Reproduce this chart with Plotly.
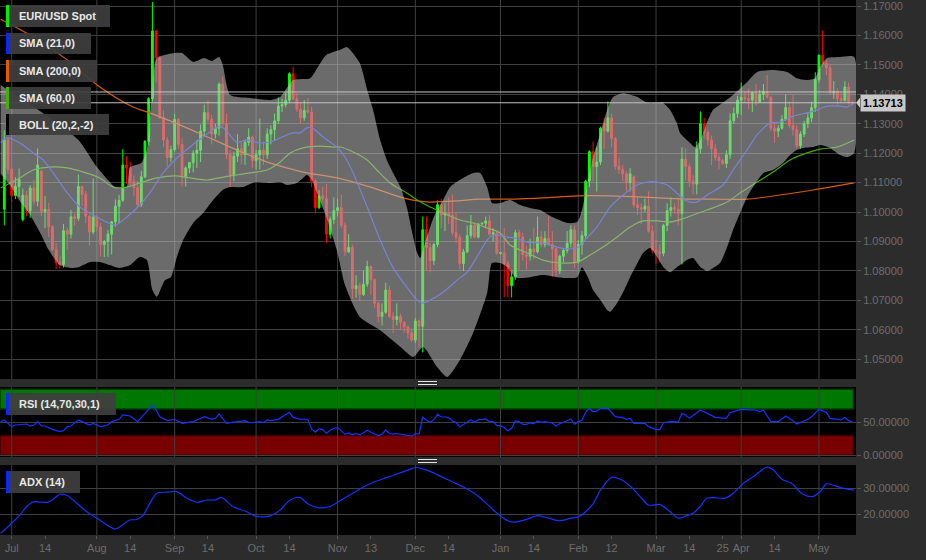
import plotly.graph_objects as go

# ---------------- DATA ----------------
# trading-day index: 0 = 2015-06-29 ... 229 = 2016-05-13 (weekdays)
OPEN = [
    1.1010, 1.1245,
    1.1145, 1.1056, 1.1087, 1.0975, 1.1057, 1.1004, 1.1082, 1.1037, 1.1140, 1.1002, 1.1009, 1.0951, 1.0873, 1.0828, 1.0822, 1.0937, 1.0925, 1.0984, 1.0978, 1.1087, 1.1060, 1.0986, 1.0932,
    1.0983, 1.0950, 1.0890, 1.0900, 1.0925, 1.0967, 1.1020, 1.1040, 1.1160, 1.1150, 1.1105, 1.1083, 1.1025, 1.1120, 1.1240, 1.1385, 1.1615, 1.1525, 1.1320, 1.1245, 1.1185,
    1.1212, 1.1315, 1.1230, 1.1120, 1.1150, 1.1168, 1.1200, 1.1210, 1.1275, 1.1338, 1.1315, 1.1265, 1.1285, 1.1435, 1.1300, 1.1195, 1.1125, 1.1190, 1.1215, 1.1195, 1.1237, 1.1255,
    1.1175, 1.1195, 1.1210, 1.1195, 1.1265, 1.1280, 1.1310, 1.1360, 1.1365, 1.1380, 1.1470, 1.1385, 1.1350, 1.1320, 1.1345, 1.1340, 1.1105, 1.1015, 1.1055, 1.1045, 1.0925, 1.0975,
    1.1005, 1.1015, 1.0955, 1.0865, 1.0880, 1.0740, 1.0750, 1.0720, 1.0755, 1.0815, 1.0770, 1.0690, 1.0645, 1.0660, 1.0735, 1.0645, 1.0635, 1.0645, 1.0625, 1.0610, 1.0590,
    1.0565, 1.0630, 1.0612, 1.0940, 1.0880, 1.0835, 1.0890, 1.1025, 1.0990, 1.0995, 1.0990, 1.0930, 1.0915, 1.0825, 1.0865, 1.0920, 1.0955, 1.0915, 1.0960, 1.0962, 1.0970, 1.0925, 1.0930,
    1.0860, 1.0862, 1.0825, 1.0750, 1.0780, 1.0930, 1.0915, 1.0855, 1.0850, 1.0875, 1.0865, 1.0915, 1.0890, 1.0910, 1.0890, 1.0875, 1.0800, 1.0850, 1.0870, 1.0895, 1.0940,
    1.0830, 1.0890, 1.0920, 1.1105, 1.1205, 1.1155, 1.1170, 1.1300, 1.1275, 1.1320, 1.1250, 1.1155, 1.1145, 1.1130, 1.1100, 1.1120, 1.1025, 1.1015, 1.1010, 1.1020, 1.0935,
    1.0870, 1.0865, 1.0860, 1.0955, 1.1005, 1.1015, 1.1010, 1.0995, 1.1180, 1.1155, 1.1105, 1.1095, 1.1215, 1.1300, 1.1270, 1.1245, 1.1215, 1.1185, 1.1175, 1.1165, 1.1195, 1.1310, 1.1335,
    1.1380, 1.1390, 1.1385, 1.1380, 1.1405, 1.1375, 1.1400, 1.1410, 1.1390, 1.1285, 1.1275, 1.1285, 1.1315, 1.1355, 1.1295, 1.1280, 1.1225, 1.1265, 1.1300, 1.1320, 1.1355,
    1.1450, 1.1533, 1.1505, 1.1490, 1.1405, 1.1410, 1.1385, 1.1380, 1.1425, 1.1372,
]
HIGH = [
    1.1278, 1.1250,
    1.1150, 1.1119, 1.1148, 1.1080, 1.1072, 1.1091, 1.1110, 1.1216, 1.1140, 1.1055, 1.1031, 1.0954, 1.0895, 1.0848, 1.0960, 1.0947, 1.1007, 1.0994, 1.1128, 1.1088, 1.1072, 1.0990, 1.1114,
    1.0989, 1.0963, 1.0905, 1.0939, 1.0970, 1.1043, 1.1058, 1.1214, 1.1189, 1.1170, 1.1125, 1.1105, 1.1140, 1.1245, 1.1390, 1.1714, 1.1618, 1.1530, 1.1345, 1.1255, 1.1225,
    1.1333, 1.1320, 1.1250, 1.1156, 1.1170, 1.1210, 1.1245, 1.1297, 1.1365, 1.1380, 1.1330, 1.1300, 1.1440, 1.1460, 1.1335, 1.1210, 1.1205, 1.1265, 1.1240, 1.1245, 1.1285, 1.1260,
    1.1210, 1.1318, 1.1240, 1.1285, 1.1295, 1.1335, 1.1390, 1.1385, 1.1405, 1.1475, 1.1495, 1.1405, 1.1370, 1.1380, 1.1387, 1.1358, 1.1110, 1.1075, 1.1085, 1.1095, 1.0985, 1.1050,
    1.1045, 1.1060, 1.0965, 1.0925, 1.0890, 1.0785, 1.0760, 1.0800, 1.0835, 1.0820, 1.0775, 1.0695, 1.0690, 1.0760, 1.0750, 1.0660, 1.0690, 1.0655, 1.0630, 1.0615, 1.0605,
    1.0640, 1.0635, 1.0985, 1.0985, 1.0895, 1.0895, 1.1040, 1.1045, 1.1030, 1.1050, 1.1060, 1.1000, 1.0925, 1.0875, 1.0955, 1.0990, 1.0965, 1.0960, 1.0965, 1.0985, 1.0990, 1.0945, 1.0935,
    1.0865, 1.0946, 1.0835, 1.0800, 1.0940, 1.0940, 1.0930, 1.0885, 1.0910, 1.0945, 1.0985, 1.0935, 1.0935, 1.0985, 1.0935, 1.0880, 1.0855, 1.0875, 1.0935, 1.0955, 1.0955,
    1.0905, 1.0935, 1.1110, 1.1210, 1.1240, 1.1220, 1.1290, 1.1320, 1.1376, 1.1335, 1.1255, 1.1185, 1.1160, 1.1140, 1.1150, 1.1125, 1.1050, 1.1030, 1.1045, 1.1070, 1.0955,
    1.0905, 1.0890, 1.0960, 1.1030, 1.1050, 1.1030, 1.1050, 1.1220, 1.1217, 1.1165, 1.1125, 1.1240, 1.1342, 1.1320, 1.1280, 1.1260, 1.1230, 1.1195, 1.1180, 1.1210, 1.1335, 1.1355, 1.1395,
    1.1440, 1.1410, 1.1420, 1.1410, 1.1435, 1.1415, 1.1435, 1.1465, 1.1395, 1.1305, 1.1295, 1.1330, 1.1400, 1.1375, 1.1400, 1.1295, 1.1275, 1.1310, 1.1340, 1.1375, 1.1475,
    1.1535, 1.1616, 1.1515, 1.1500, 1.1445, 1.1420, 1.1405, 1.1445, 1.1440, 1.1380,
]
LOW = [
    1.0955, 1.1130,
    1.1034, 1.1044, 1.1052, 1.0968, 1.0986, 1.0980, 1.1025, 1.1020, 1.0987, 1.0946, 1.0915, 1.0868, 1.0807, 1.0808, 1.0812, 1.0872, 1.0910, 1.0954, 1.0970, 1.1020, 1.0963, 1.0886, 1.0924,
    1.0935, 1.0849, 1.0847, 1.0848, 1.0856, 1.0950, 1.0962, 1.1035, 1.1095, 1.1088, 1.1055, 1.1017, 1.1017, 1.1115, 1.1226, 1.1375, 1.1440, 1.1316, 1.1220, 1.1155, 1.1170,
    1.1205, 1.1215, 1.1087, 1.1087, 1.1133, 1.1135, 1.1150, 1.1170, 1.1260, 1.1305, 1.1230, 1.1250, 1.1260, 1.1290, 1.1180, 1.1085, 1.1105, 1.1170, 1.1162, 1.1160, 1.1225, 1.1150,
    1.1145, 1.1145, 1.1160, 1.1180, 1.1230, 1.1245, 1.1300, 1.1340, 1.1355, 1.1370, 1.1380, 1.1340, 1.1300, 1.1310, 1.1335, 1.1085, 1.0995, 1.1010, 1.1030, 1.0895, 1.0910, 1.0960,
    1.0985, 1.0945, 1.0850, 1.0860, 1.0705, 1.0710, 1.0700, 1.0715, 1.0745, 1.0720, 1.0675, 1.0625, 1.0615, 1.0655, 1.0640, 1.0590, 1.0615, 1.0600, 1.0590, 1.0570, 1.0560,
    1.0555, 1.0540, 1.0523, 1.0800, 1.0795, 1.0820, 1.0880, 1.0945, 1.0935, 1.0960, 1.0920, 1.0895, 1.0805, 1.0800, 1.0860, 1.0910, 1.0910, 1.0910, 1.0955, 1.0945, 1.0920, 1.0900, 1.0855,
    1.0855, 1.0711, 1.0710, 1.0710, 1.0770, 1.0805, 1.0835, 1.0805, 1.0835, 1.0840, 1.0860, 1.0880, 1.0880, 1.0885, 1.0780, 1.0780, 1.0790, 1.0830, 1.0860, 1.0880, 1.0810,
    1.0825, 1.0855, 1.0910, 1.1085, 1.1105, 1.1070, 1.1160, 1.1215, 1.1270, 1.1220, 1.1145, 1.1130, 1.1105, 1.1070, 1.1070, 1.1015, 1.0990, 1.0960, 1.1000, 1.0930, 1.0860,
    1.0825, 1.0830, 1.0850, 1.0935, 1.0985, 1.0995, 1.0955, 1.0822, 1.1106, 1.1085, 1.1060, 1.1060, 1.1200, 1.1250, 1.1225, 1.1160, 1.1175, 1.1145, 1.1160, 1.1150, 1.1180, 1.1300, 1.1320,
    1.1330, 1.1370, 1.1350, 1.1340, 1.1360, 1.1370, 1.1380, 1.1385, 1.1275, 1.1235, 1.1255, 1.1280, 1.1310, 1.1285, 1.1260, 1.1215, 1.1215, 1.1255, 1.1285, 1.1305, 1.1340,
    1.1440, 1.1495, 1.1465, 1.1400, 1.1385, 1.1365, 1.1370, 1.1375, 1.1365, 1.1365,
]
CLOSE = [
    1.1245, 1.1145,
    1.1056, 1.1087, 1.1111, 1.1057, 1.1004, 1.1082, 1.1037, 1.1160, 1.1002, 1.1009, 1.0951, 1.0873, 1.0828, 1.0822, 1.0937, 1.0925, 1.0984, 1.0978, 1.1087, 1.1060, 1.0986, 1.0932, 1.0983,
    1.0950, 1.0890, 1.0900, 1.0925, 1.0967, 1.1020, 1.1040, 1.1160, 1.1150, 1.1105, 1.1083, 1.1025, 1.1120, 1.1240, 1.1385, 1.1615, 1.1525, 1.1320, 1.1245, 1.1185, 1.1212,
    1.1315, 1.1230, 1.1120, 1.1150, 1.1168, 1.1200, 1.1210, 1.1275, 1.1338, 1.1315, 1.1265, 1.1285, 1.1435, 1.1300, 1.1195, 1.1125, 1.1190, 1.1215, 1.1195, 1.1237, 1.1255, 1.1175,
    1.1195, 1.1210, 1.1195, 1.1265, 1.1280, 1.1310, 1.1360, 1.1365, 1.1380, 1.1470, 1.1385, 1.1350, 1.1320, 1.1345, 1.1340, 1.1105, 1.1015, 1.1055, 1.1045, 1.0925, 1.0975, 1.1005,
    1.1015, 1.0955, 1.0865, 1.0880, 1.0740, 1.0750, 1.0720, 1.0755, 1.0815, 1.0770, 1.0690, 1.0645, 1.0660, 1.0735, 1.0645, 1.0635, 1.0645, 1.0625, 1.0610, 1.0590, 1.0565,
    1.0630, 1.0612, 1.0940, 1.0880, 1.0835, 1.0890, 1.1025, 1.0990, 1.0995, 1.0990, 1.0930, 1.0915, 1.0825, 1.0865, 1.0920, 1.0955, 1.0915, 1.0960, 1.0962, 1.0970, 1.0925, 1.0930, 1.0860,
    1.0862, 1.0825, 1.0750, 1.0780, 1.0930, 1.0915, 1.0855, 1.0850, 1.0875, 1.0865, 1.0915, 1.0890, 1.0910, 1.0890, 1.0875, 1.0800, 1.0850, 1.0870, 1.0895, 1.0940, 1.0830,
    1.0890, 1.0920, 1.1105, 1.1205, 1.1155, 1.1170, 1.1285, 1.1275, 1.1320, 1.1250, 1.1155, 1.1145, 1.1130, 1.1100, 1.1130, 1.1025, 1.1015, 1.1010, 1.1020, 1.0935, 1.0870,
    1.0865, 1.0860, 1.0955, 1.1005, 1.1015, 1.1010, 1.0995, 1.1180, 1.1155, 1.1105, 1.1095, 1.1215, 1.1300, 1.1270, 1.1245, 1.1215, 1.1185, 1.1175, 1.1165, 1.1195, 1.1310, 1.1335, 1.1380,
    1.1390, 1.1385, 1.1380, 1.1405, 1.1375, 1.1400, 1.1410, 1.1390, 1.1285, 1.1275, 1.1285, 1.1315, 1.1355, 1.1295, 1.1280, 1.1225, 1.1265, 1.1300, 1.1320, 1.1355, 1.1450,
    1.1533, 1.1505, 1.1490, 1.1405, 1.1410, 1.1385, 1.1380, 1.1425, 1.1372, 1.13713,
]
DAY = list(range(len(CLOSE)))

# Bollinger (20,2) upper / lower band
BB_UP_X = [-1, 10, 20, 25, 28, 30, 33, 34, 37, 38.5, 40, 41.2, 46, 48, 51, 54, 56, 58, 59, 61, 66, 72, 74.5, 78, 82.6, 84.7, 87, 90.7, 92.5, 96, 98, 99.6, 101.5, 103.3, 105, 107, 108.7, 110, 111.5, 112.3, 113.6, 116, 118.5, 120.4, 123, 126.6, 128.5, 130.4, 131.7, 134, 136.6, 139.3, 142, 144.7, 148, 152, 154.7, 156, 157.3, 159, 161, 162.8, 164.4, 167, 171, 173.6, 176.3, 177.6, 179.8, 181.6, 182.5, 185.2, 186.5, 188, 190, 191.4, 194, 196.8, 200.6, 203.3, 207.6, 211.4, 214, 216.8, 218.9, 220.3, 222.2, 225.7, 229.5]
BB_UP = [1.1432, 1.1340, 1.1245, 1.1153, 1.1109, 1.1085, 1.1085, 1.1153, 1.1167, 1.1211, 1.1425, 1.1523, 1.1540, 1.1540, 1.1510, 1.1523, 1.1513, 1.1527, 1.1500, 1.1398, 1.1388, 1.1381, 1.1391, 1.1449, 1.1455, 1.1493, 1.1534, 1.1551, 1.1561, 1.1506, 1.1415, 1.1347, 1.1245, 1.1177, 1.1133, 1.1085, 1.1017, 1.0939, 1.0861, 1.0844, 1.0895, 1.0983, 1.1041, 1.1085, 1.1109, 1.1133, 1.1133, 1.1085, 1.1031, 1.1031, 1.1041, 1.1024, 1.1014, 1.1007, 1.0983, 1.0963, 1.0966, 1.1007, 1.1085, 1.1187, 1.1269, 1.1347, 1.1391, 1.1404, 1.1391, 1.1371, 1.1371, 1.1374, 1.1347, 1.1303, 1.1269, 1.1235, 1.1221, 1.1245, 1.1313, 1.1347, 1.1371, 1.1398, 1.1442, 1.1476, 1.1483, 1.1476, 1.1455, 1.1449, 1.1455, 1.1493, 1.1523, 1.1527, 1.1527]
BB_LO_X = [-1, 1.5, 4, 7, 10, 12, 15, 18, 20, 23, 26, 28.5, 31, 34, 36.6, 38.5, 40, 41.2, 43.4, 45, 46.6, 48.3, 51, 53.7, 56.4, 59, 61, 64.5, 67.7, 71.7, 74.5, 76.3, 79, 80.7, 81.7, 83.1, 84.4, 87, 89.8, 92, 96, 101.5, 107, 110.4, 113.1, 116.9, 119.6, 123, 126.6, 130.4, 131.7, 134, 135.8, 138, 139.3, 142, 145.5, 149.3, 152, 154.7, 156, 157.6, 159, 161, 162.8, 163.6, 165.5, 167, 169, 171, 172.5, 174.4, 176.3, 178, 179.8, 181.6, 182.5, 184.3, 186, 188, 190, 191.4, 193.3, 195.2, 196.8, 198.7, 200.6, 202.2, 205, 207.6, 210.3, 212.2, 214, 215.7, 218.4, 220.3, 223, 225.7, 227.6, 229.5]
BB_LO = [1.1130, 1.1092, 1.1041, 1.0990, 1.0922, 1.0871, 1.0820, 1.0810, 1.0813, 1.0830, 1.0830, 1.0820, 1.0810, 1.0820, 1.0847, 1.0837, 1.0735, 1.0712, 1.0769, 1.0779, 1.0847, 1.0905, 1.0963, 1.0997, 1.1041, 1.1075, 1.1085, 1.1085, 1.1102, 1.1099, 1.1102, 1.1092, 1.1099, 1.1116, 1.1126, 1.1109, 1.1065, 1.0983, 1.0871, 1.0752, 1.0644, 1.0599, 1.0542, 1.0508, 1.0542, 1.0474, 1.0440, 1.0497, 1.0589, 1.0725, 1.0827, 1.0827, 1.0813, 1.0779, 1.0776, 1.0779, 1.0786, 1.0779, 1.0776, 1.0779, 1.0813, 1.0779, 1.0735, 1.0701, 1.0667, 1.0661, 1.0691, 1.0725, 1.0779, 1.0827, 1.0861, 1.0878, 1.0847, 1.0813, 1.0796, 1.0813, 1.0820, 1.0837, 1.0844, 1.0813, 1.0800, 1.0810, 1.0827, 1.0881, 1.0939, 1.0997, 1.1051, 1.1085, 1.1133, 1.1143, 1.1167, 1.1194, 1.1211, 1.1218, 1.1221, 1.1228, 1.1218, 1.1194, 1.1187, 1.1201]

# SMA(21)
SMA21_X = [-1, 0.7, 4.2, 7.8, 10.5, 13.2, 17, 20.4, 24, 27.7, 30, 33.1, 36.6, 39.3, 42.9, 46.1, 50.1, 53.7, 58.2, 60.4, 62.8, 65.5, 69, 71.8, 74.5, 76.3, 78, 79.9, 81.7, 83.1, 86.1, 89.8, 92, 94.2, 98, 101.5, 104.9, 108.7, 111.5, 112.8, 115, 118.5, 122.3, 125, 127.6, 130.4, 132, 135.8, 137.9, 141.2, 145.5, 149.3, 152, 154.7, 156.8, 160, 163.6, 167.1, 170.9, 173.6, 176.3, 179, 181.6, 183.8, 185.2, 187, 189.8, 194.1, 196.8, 200.6, 203.3, 206.8, 209.5, 213, 216.8, 219.5, 222.2, 225.7, 227.6, 229.5]
SMA21 = [1.1235, 1.1252, 1.1235, 1.1201, 1.1177, 1.1133, 1.1065, 1.1017, 1.0990, 1.0966, 1.0956, 1.0983, 1.1024, 1.1065, 1.1133, 1.1177, 1.1221, 1.1255, 1.1292, 1.1269, 1.1238, 1.1245, 1.1235, 1.1238, 1.1252, 1.1262, 1.1269, 1.1269, 1.1286, 1.1286, 1.1255, 1.1221, 1.1187, 1.1133, 1.1017, 1.0905, 1.0813, 1.0745, 1.0701, 1.0691, 1.0701, 1.0728, 1.0769, 1.0796, 1.0847, 1.0905, 1.0922, 1.0915, 1.0912, 1.0898, 1.0895, 1.0881, 1.0875, 1.0878, 1.0905, 1.0949, 1.1017, 1.1058, 1.1092, 1.1102, 1.1102, 1.1092, 1.1065, 1.1041, 1.1034, 1.1034, 1.1058, 1.1092, 1.1143, 1.1211, 1.1262, 1.1303, 1.1306, 1.1326, 1.1337, 1.1347, 1.1360, 1.1360, 1.1357, 1.1371]

# SMA(60)
SMA60_X = [-1, 4.2, 7.8, 12.3, 17, 21.3, 25.8, 29.4, 33.1, 36.6, 41.2, 46.1, 50.1, 54.7, 59.1, 62.8, 66.4, 71, 74.5, 77.2, 80.7, 85.3, 88.8, 90.7, 94.2, 98, 100.6, 104.2, 108.7, 111.5, 115, 118.5, 123.1, 126.6, 130.4, 133.9, 136.6, 141.2, 145.5, 150.1, 154.7, 158.2, 161.7, 165.5, 169, 172.5, 176.3, 179.8, 183.8, 186, 189.8, 195.2, 198.7, 203.3, 207.6, 212.2, 216.8, 220.3, 224.9, 229.5]
SMA60 = [1.1082, 1.1116, 1.1143, 1.1153, 1.1150, 1.1136, 1.1116, 1.1085, 1.1085, 1.1099, 1.1116, 1.1123, 1.1116, 1.1109, 1.1119, 1.1126, 1.1133, 1.1143, 1.1170, 1.1201, 1.1218, 1.1224, 1.1221, 1.1221, 1.1204, 1.1177, 1.1143, 1.1099, 1.1065, 1.1041, 1.1017, 1.0997, 1.0973, 1.0963, 1.0946, 1.0929, 1.0888, 1.0861, 1.0837, 1.0827, 1.0830, 1.0854, 1.0881, 1.0915, 1.0949, 1.0970, 1.0970, 1.0966, 1.0980, 1.0990, 1.1007, 1.1034, 1.1065, 1.1102, 1.1136, 1.1177, 1.1201, 1.1214, 1.1221, 1.1245]

# SMA(200)
SMA200_X = [-1, 7.8, 17, 25.8, 34.8, 39.3, 46.1, 53.7, 62.8, 71.7, 80.7, 89.8, 99.6, 106.9, 111.5, 115, 122.3, 128.5, 137.9, 145.5, 154.7, 163.6, 172.5, 183.8, 191.4, 200.6, 209.5, 218.4, 229.5]
SMA200 = [1.1655, 1.1595, 1.1517, 1.1425, 1.1357, 1.1337, 1.1303, 1.1262, 1.1211, 1.1167, 1.1136, 1.1116, 1.1082, 1.1051, 1.1038, 1.1034, 1.1038, 1.1044, 1.1044, 1.1048, 1.1055, 1.1055, 1.1051, 1.1044, 1.1044, 1.1044, 1.1058, 1.1075, 1.1099]

# RSI(14)
RSI_X = [-1, 0, 2, 3, 6, 7, 8, 9, 10, 11, 13, 15, 16, 17, 18, 19, 20, 21, 23, 24, 26, 28, 29, 31, 32, 34, 36, 38, 40, 41, 42, 44, 46, 48, 51, 52, 54, 56, 57, 58, 59, 60, 61, 63, 65, 66, 67, 69, 70, 71, 72, 74, 75, 76, 77, 78, 80,
         81, 82, 83, 84, 85, 86, 87, 88, 89, 90, 91, 92, 93, 94, 95, 96, 97, 98, 99, 100, 101, 102, 103, 104, 105, 106, 107, 108, 109, 110, 111, 112, 113, 114, 115, 116, 117, 118, 119, 120, 121, 122, 123, 124, 125, 126, 127, 128, 129, 130, 131, 132, 133, 134, 135, 136, 137, 138, 139, 140, 141, 142, 143, 144, 145, 146, 147, 148, 149, 150, 151, 152, 153, 154, 155, 156, 157, 158, 159, 160,
         161, 163, 165, 167, 168, 169, 170, 173, 174, 176, 177, 178, 180, 182, 183, 184, 185, 188, 190, 192, 195, 196, 199, 201, 203, 204, 205, 207, 209, 211, 213, 214, 217, 218, 220, 222, 223, 225, 226, 227, 228, 229]
RSI = [51, 53.5, 43.4, 45.9, 47.4, 44.4, 45.9, 51, 44.4, 44.4, 39.3, 35.8, 37.3, 43.4, 44.4, 48.4, 53.5, 51, 45.9, 48.4, 43.4, 45.9, 51, 54.5, 61.1, 59.5, 51, 63.6, 76.2, 68.6, 58.5, 52.5, 54.5, 48.4, 51, 53.5, 58.5, 54.5, 56, 62.6, 54.5, 48.4, 49.4, 51, 52.5, 50, 49.4, 51, 49.4, 53.5, 52.5, 54.5, 58.5, 61.1, 65.1, 57.5, 54.5,
       55, 54, 40, 35, 40, 39, 33, 38, 41, 42, 37, 32, 34, 31, 33, 31, 34, 38, 35, 32, 30, 32, 38, 33, 32, 33, 32, 31, 30, 29, 33, 32, 58, 53, 50, 54, 62, 58, 58, 57, 52, 50, 43, 47, 51, 54, 50, 54, 54, 55, 51, 51, 45, 45, 42, 37, 41, 52, 51, 47, 47, 49, 48, 52, 50, 51, 50, 49, 44, 48, 50, 52, 55, 47, 51, 53, 65, 71, 66, 67,
       71.2, 71, 58.5, 57, 54.5, 56, 48.5, 48.5, 43.4, 38.9, 38.9, 49.4, 51, 50.5, 63.6, 61.1, 56, 68.6, 63.6, 57.5, 56, 64.6, 69.6, 68.6, 68.6, 66, 68.6, 51, 51, 59.5, 52.5, 47.4, 54.5, 58.5, 69.6, 65.1, 56, 54.5, 53.5, 57.5, 52.5, 51]

# ADX(14)
ADX_X = [-1, 1.5, 4.2, 6, 7.8, 9.6, 11.9, 13.2, 15, 16.9, 18.6, 22.3, 25.8, 28.5, 29.9, 31.2, 33.9, 35.8, 37.5, 39.3, 41.2, 43.9, 46.6, 49.3, 52, 54.7, 56.9, 58.7, 61.8, 65.5, 67.7, 71.7, 74.5, 77.2, 79.9,
         82, 85, 88, 91, 94, 97, 100, 103, 106, 109, 111, 113, 115, 118, 121, 124, 127, 130, 133, 136, 138, 141, 144, 147, 150, 153, 155, 157, 159, 161,
         164, 166.3, 169, 171.7, 173.9, 175.7, 177, 179.8, 182, 184.3, 186, 187.9, 189.7, 191.9, 194.6, 196.9, 199.6, 202.3, 205.9, 207.7, 210, 212.6, 215.3, 218, 220.3, 222, 224.3, 226.6, 229.5]
ADX = [12.7, 15.9, 19.7, 22.9, 24.8, 24.7, 24.7, 25.8, 27.7, 27.3, 25.5, 21, 17.8, 15.2, 14.3, 15.2, 17.8, 18, 19.7, 24.2, 28.1, 28.5, 28.7, 26.2, 24.6, 25.5, 25.5, 26.4, 22.9, 21, 19.3, 19.3, 21.7, 25.5, 26.4,
       24, 22.5, 23, 25.5, 28, 30.5, 32.5, 34, 35.5, 37, 38, 37.5, 36.5, 34.5, 32.5, 30.5, 28, 24.5, 20.5, 17.5, 17, 18, 19.5, 18.5, 17.5, 18.5, 19, 21, 24, 29.3,
       34.2, 33.5, 30.9, 26.8, 23.6, 23.6, 23.8, 21, 18.5, 19.5, 20.4, 22.9, 26.2, 26.4, 26.2, 28.1, 31.9, 34.5, 38.1, 37, 33.5, 31.9, 28.1, 26.8, 28.7, 31.7, 31, 30, 29.3]

LAST_PRICE = 1.13713
REF_LEVEL = 1.1408

MONTH_IDX = [2, 25, 46, 68, 90, 111, 134, 155, 176, 199, 220]
TICK_IDX = [2, 11, 25, 34, 46, 55, 68, 77, 90, 99, 111, 120, 134, 143, 155, 164, 176, 185, 194, 199, 208, 220]
TICK_TEXT = ["Jul", "14", "Aug", "14", "Sep", "14", "Oct", "14", "Nov", "13", "Dec", "14",
             "Jan", "14", "Feb", "12", "Mar", "14", "25", "Apr", "14", "May"]

# ---------------- LAYOUT GEOMETRY ----------------
FW, FH = 926, 560
ML, MR, MT, MB = 0, 70, 0, 25
PW, PH = FW - ML - MR, FH - MT - MB   # plot area 856 x 535


def px_x(x):
    return x / PW


def px_y(y):
    return (PH - y) / PH


MAIN_DOM = [px_y(379), 1.0]
RSI_DOM = [px_y(457), px_y(387)]
ADX_DOM = [0.0, px_y(465)]

FONT = "Liberation Sans, Arial, sans-serif"
GRID = "#3f3f3f"
TICKC = "#6c6c6c"

fig = go.Figure()

fig.add_trace(go.Candlestick(
    x=DAY, open=OPEN, high=HIGH, low=LOW, close=CLOSE,
    increasing=dict(line=dict(color="#00ff00", width=1), fillcolor="#00ff00"),
    decreasing=dict(line=dict(color="#ff0000", width=1), fillcolor="#ff0000"),
    whiskerwidth=0, xaxis="x", yaxis="y", showlegend=False, hoverinfo="skip"))

for xs, ys, col in [(SMA200_X, SMA200, "#d85a0a"), (SMA60_X, SMA60, "#44a800"), (SMA21_X, SMA21, "#2036f0")]:
    fig.add_trace(go.Scatter(x=xs, y=ys, mode="lines", xaxis="x", yaxis="y",
                             line=dict(color=col, width=1.2, shape="spline", smoothing=0.8),
                             showlegend=False, hoverinfo="skip"))

fig.add_trace(go.Scatter(
    x=BB_UP_X + BB_LO_X[::-1], y=BB_UP + BB_LO[::-1], mode="lines", fill="toself",
    fillcolor="rgba(190,190,190,0.56)", line=dict(width=0, shape="spline", smoothing=0.6),
    xaxis="x", yaxis="y", showlegend=False, hoverinfo="skip"))

fig.add_trace(go.Scatter(x=RSI_X, y=RSI, mode="lines", xaxis="x2", yaxis="y2",
                         line=dict(color="#1434ff", width=1.2), showlegend=False, hoverinfo="skip"))
fig.add_trace(go.Scatter(x=ADX_X, y=ADX, mode="lines", xaxis="x3", yaxis="y3",
                         line=dict(color="#1434ff", width=1.2, shape="spline", smoothing=0.8),
                         showlegend=False, hoverinfo="skip"))

XR = [-1.16, 230.0]
xcommon = dict(range=XR, showgrid=False, zeroline=False, fixedrange=True, showline=False)
ycommon = dict(side="right", showgrid=True, gridcolor=GRID, gridwidth=1, zeroline=False,
               ticks="outside", ticklen=4, tickcolor="#555555", fixedrange=True,
               ticklabeloverflow="allow",
               tickfont=dict(family=FONT, size=11, color=TICKC), showline=False)

fig.update_layout(
    width=FW, height=FH, margin=dict(l=ML, r=MR, t=MT, b=MB),
    paper_bgcolor="#2c2c2c", plot_bgcolor="#000000", hovermode=False, showlegend=False,
    xaxis=dict(**xcommon, anchor="y", showticklabels=False, rangeslider=dict(visible=False)),
    xaxis2=dict(**xcommon, anchor="y2", showticklabels=False, matches="x"),
    xaxis3=dict(**xcommon, anchor="y3", matches="x", tickmode="array", tickvals=TICK_IDX,
                ticktext=TICK_TEXT, ticks="outside", ticklen=3, tickcolor="#555555",
                ticklabeloverflow="allow",
                tickfont=dict(family=FONT, size=11, color=TICKC)),
    yaxis=dict(**ycommon, domain=MAIN_DOM, anchor="x", range=[1.0433, 1.17204],
               tick0=1.0, dtick=0.01, tickformat=".5f"),
    yaxis2=dict(**ycommon, domain=RSI_DOM, anchor="x2", range=[-2.6, 103.5],
                tickmode="array", tickvals=[0, 50], tickformat=".5f"),
    yaxis3=dict(**ycommon, domain=ADX_DOM, anchor="x3", range=[12.04, 38.96],
                tickmode="array", tickvals=[20, 30], tickformat=".5f"),
)

shapes = []
# RSI zones
shapes.append(dict(type="rect", xref="x2 domain", yref="y2", x0=0.0, x1=0.997, y0=70, y1=100,
                   fillcolor="#007800", line=dict(color="#003a00", width=1.5), layer="below"))
shapes.append(dict(type="rect", xref="x2 domain", yref="y2", x0=0.0, x1=0.997, y0=0, y1=30,
                   fillcolor="#780000", line=dict(color="#3a0000", width=1.5), layer="below"))
# vertical month grid lines in each panel
for m in MONTH_IDX:
    for yr, xr in [("y domain", "x"), ("y2 domain", "x2"), ("y3 domain", "x3")]:
        shapes.append(dict(type="line", xref=xr, yref=yr, x0=m, x1=m, y0=0, y1=1,
                           line=dict(color=GRID, width=1), layer="below"))
# price lines
for lv in [REF_LEVEL, LAST_PRICE]:
    shapes.append(dict(type="line", xref="x domain", yref="y", x0=0, x1=1, y0=lv, y1=lv,
                       line=dict(color="#c4c4c4", width=1), layer="above"))
# last price pointer
shapes.append(dict(type="path", xref="paper", yref="y", xsizemode="pixel", ysizemode="pixel",
                   xanchor=1.0, yanchor=LAST_PRICE, path="M 0 0 L 4 -5 L 4 5 Z",
                   fillcolor="#c8c8c8", line=dict(width=0), layer="above"))
# separator handles
for yy in [381.5, 384.5, 459.5, 462.5]:
    shapes.append(dict(type="line", xref="paper", yref="paper", x0=px_x(418), x1=px_x(437),
                       y0=px_y(yy), y1=px_y(yy), line=dict(color="#e6e6e6", width=1)))

# legend boxes
LEG = [
    ("EUR/USD Spot", "#00ee00", 5, 27, 110),
    ("SMA (21,0)", "#0a28ff", 33, 54, 91),
    ("SMA (200,0)", "#e05a00", 60, 82, 97),
    ("SMA (60,0)", "#44b000", 87, 109, 91),
    ("BOLL (20,2,-2)", "#000000", 114, 135, 109),
    ("RSI (14,70,30,1)", "#0a28ff", 393, 415, 116),
    ("ADX (14)", "#0a28ff", 471, 493, 80),
]
annotations = []
for txt, col, y0, y1, x1 in LEG:
    shapes.append(dict(type="rect", xref="paper", yref="paper", x0=px_x(9), x1=px_x(x1),
                       y0=px_y(y1), y1=px_y(y0), fillcolor="rgba(62,62,62,0.93)",
                       line=dict(width=0), layer="above"))
    shapes.append(dict(type="rect", xref="paper", yref="paper", x0=px_x(6), x1=px_x(9),
                       y0=px_y(y1), y1=px_y(y0), fillcolor=col, line=dict(width=0), layer="above"))
    annotations.append(dict(xref="paper", yref="paper", x=px_x(17), y=px_y((y0 + y1) / 2),
                            xanchor="left", yanchor="middle", showarrow=False, text="<b>%s</b>" % txt,
                            font=dict(family=FONT, size=11, color="#e8e8e8")))

annotations.append(dict(xref="paper", yref="y", x=1.0, y=LAST_PRICE, xanchor="left", yanchor="middle",
                        xshift=4, showarrow=False, text="<b>%.5f</b>" % LAST_PRICE, bgcolor="#c8c8c8",
                        borderpad=2, font=dict(family=FONT, size=11, color="#000000")))

fig.update_layout(shapes=shapes, annotations=annotations)
fig.write_html("out.html", config=dict(displayModeBar=False),
               post_script="document.body.style.margin='0px';document.body.style.overflow='hidden';")
